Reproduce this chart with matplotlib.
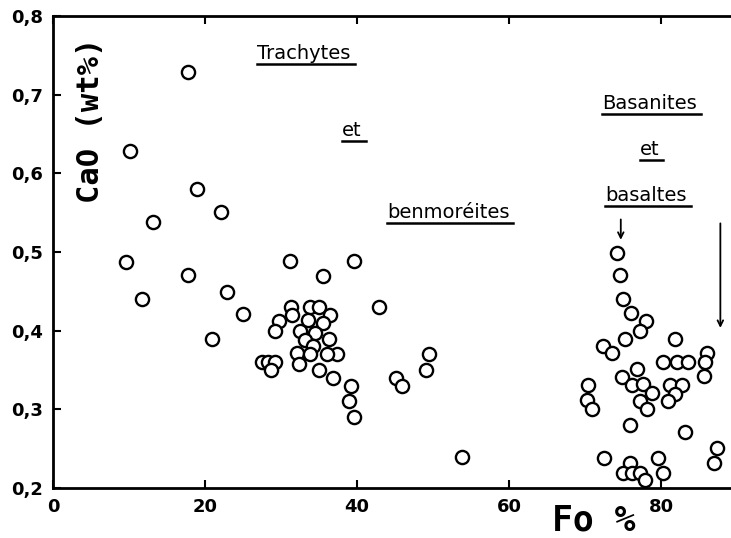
import matplotlib
matplotlib.use('Agg')
import matplotlib.pyplot as plt
from matplotlib.lines import Line2D

# Fo % vs CaO (wt%) in olivines
fo_trachytes = [17.7, 10.1, 19.0, 13.2, 22.1, 9.6, 17.8, 11.7, 22.9, 25.0, 20.9,
                31.2, 39.6, 35.5, 42.9, 31.3, 33.8, 35.0, 36.4, 29.7, 29.2, 31.4,
                32.5, 33.5, 35.5, 36.3, 34.5, 33.2, 34.2, 32.1, 37.3, 36.0, 33.8,
                32.3, 27.5, 28.3, 29.2, 28.7, 35.0, 36.8, 39.2, 39.0, 39.6, 45.1,
                45.9, 49.5, 49.1, 53.8]
cao_trachytes = [0.729, 0.628, 0.58, 0.538, 0.551, 0.487, 0.471, 0.44, 0.449, 0.421, 0.39,
                 0.489, 0.489, 0.469, 0.43, 0.43, 0.43, 0.43, 0.42, 0.412, 0.40, 0.42,
                 0.40, 0.413, 0.41, 0.39, 0.397, 0.388, 0.38, 0.372, 0.37, 0.37, 0.37,
                 0.358, 0.36, 0.36, 0.36, 0.35, 0.35, 0.34, 0.33, 0.31, 0.29, 0.34,
                 0.33, 0.37, 0.35, 0.24]

fo_basaltes = [74.2, 74.6, 75.0, 76.0, 78.0, 77.2, 75.3, 72.4, 73.6, 81.8, 86.0,
               80.3, 82.1, 83.6, 85.8, 85.6, 76.8, 74.9, 76.2, 77.6, 78.8, 77.2,
               78.2, 70.4, 70.2, 70.9, 81.2, 82.8, 81.8, 80.9, 75.9, 83.2, 72.5,
               75.9, 79.6, 75.0, 76.2, 77.2, 77.9, 80.3, 87.4, 87.0]
cao_basaltes = [0.499, 0.471, 0.44, 0.422, 0.412, 0.40, 0.39, 0.38, 0.372, 0.39, 0.372,
                0.36, 0.36, 0.36, 0.36, 0.342, 0.351, 0.341, 0.331, 0.332, 0.321, 0.31,
                0.30, 0.331, 0.312, 0.30, 0.331, 0.331, 0.32, 0.31, 0.28, 0.271, 0.238,
                0.232, 0.238, 0.219, 0.219, 0.219, 0.21, 0.219, 0.251, 0.232]

x_ticks = [0, 20, 40, 60, 80]
y_ticks = [0.2, 0.3, 0.4, 0.5, 0.6, 0.7, 0.8]
y_ticklabels = ['0,2', '0,3', '0,4', '0,5', '0,6', '0,7', '0,8']

fig = plt.figure(figsize=(7.31, 5.38), dpi=100)
ax = fig.add_axes([0.0725, 0.093, 0.9275, 0.877])

ax.scatter(fo_trachytes + fo_basaltes, cao_trachytes + cao_basaltes, s=90,
           facecolors='white', edgecolors='black', linewidths=1.7, zorder=3,
           clip_on=False)

ax.set_xlim(0, 89.2)
ax.set_ylim(0.2, 0.8)
ax.set_xticks(x_ticks)
ax.set_yticks(y_ticks)
ax.set_yticklabels(y_ticklabels)
ax.tick_params(direction='in', length=6, width=1.5, labelsize=13, pad=7,
               top=True)
for lab in ax.get_xticklabels() + ax.get_yticklabels():
    lab.set_fontweight('bold')
for side in ['left', 'bottom', 'top']:
    ax.spines[side].set_linewidth(2)
ax.spines['right'].set_visible(False)

# axis titles drawn inside / beside the frame as in the original
ax.text(4.9, 0.668, 'CaO (wt%)', rotation=90, ha='center', va='center',
        fontsize=22, fontweight='bold', family='DejaVu Sans Mono')
fig.text(0.812, 0.032, 'Fo %', ha='center', va='center', fontsize=25,
         fontweight='bold', family='DejaVu Sans Mono')

# group labels (underlined)
labels = [
    ('Trachytes', 33.0, 0.752),
    ('et', 39.3, 0.655),
    ('benmoréites', 52.0, 0.55),
    ('Basanites', 78.5, 0.689),
    ('et', 78.5, 0.63),
    ('basaltes', 78.0, 0.572),
]
texts = [ax.text(x, y, t, ha='center', va='center', fontsize=14)
         for t, x, y in labels]
fig.canvas.draw()
renderer = fig.canvas.get_renderer()
for t in texts:
    bb = t.get_window_extent(renderer)
    x0, x1 = bb.x0, bb.x1 + 4
    yl = bb.y0 - 1
    fig.add_artist(Line2D([x0 / 731, x1 / 731], [yl / 538, yl / 538],
                          color='black', linewidth=1.8))

# arrows pointing to the basalt points
ax.annotate('', xy=(74.7, 0.512), xytext=(74.7, 0.545),
            arrowprops=dict(arrowstyle='->', lw=1.3, color='black'))
ax.annotate('', xy=(87.8, 0.40), xytext=(87.8, 0.54),
            arrowprops=dict(arrowstyle='->', lw=1.3, color='black'))

fig.savefig('out.png', dpi=100)
